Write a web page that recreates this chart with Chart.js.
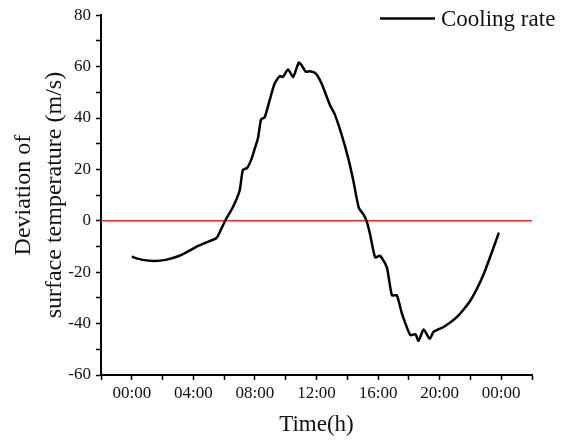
<!DOCTYPE html>
<html>
<head>
<meta charset="utf-8">
<script src="https://cdn.jsdelivr.net/npm/chart.js@4.4.1/dist/chart.umd.min.js"></script>
<style>
  html, body { margin: 0; padding: 0; background: #fff; }
  #wrap { width: 564px; height: 442px; position: relative; }
</style>
</head>
<body>
<div id="wrap"><canvas id="chart"></canvas></div>
<script>
// Valores (hora do dia x desvio)
const hours = [0, 0.7, 1.45, 2.2, 3.1, 3.75, 4.2, 4.85, 5.5, 5.8, 6.1, 6.55, 7.0, 7.22, 7.5, 7.76, 8.0, 8.2, 8.4, 8.63,
  8.96, 9.28, 9.61, 9.82, 10.15, 10.48, 10.85, 11.02, 11.3, 11.57, 11.96, 12.33, 12.87, 13.2, 13.63, 14.06, 14.4, 14.75,
  15.05, 15.25, 15.48, 15.81, 16.13, 16.57, 16.9, 17.22, 17.55, 18.1, 18.42, 18.63, 18.96, 19.35, 19.61, 20.26, 21.13,
  22.0, 22.87, 23.85];
const coolingRate = [-14, -15.2, -15.6, -15.2, -13.6, -11.6, -10.1, -8.4, -6.7, -3.3, 0.4, 5.1, 11.6, 19.8, 20.6, 23.8,
  28.3, 32.2, 39.5, 40.2, 47.0, 53.4, 56.3, 56.0, 58.9, 56.0, 61.6, 60.6, 58.0, 58.2, 57.3, 53.4, 45.1, 41.2, 33.5, 24.4,
  15.4, 5.0, 2.5, 0, -5.2, -14.2, -13.6, -18.1, -29, -29, -36.1, -44.5, -44.1, -46.7, -42.3, -45.9, -43.2, -41.3, -37.4,
  -31, -20.6, -4.6];
const zeroLineX = [-2, 26];
const zeroLineY = [0, 0];
const xTickHours = [0, 4, 8, 12, 16, 20, 24];
const yTickLabels = [-60, -40, -20, 0, 20, 40, 60, 80];

const serif = '"Liberation Serif", "Times New Roman", serif';
const inkColor = '#111';

function formatHour(h) {
  const hh = ((h % 24) + 24) % 24;
  return String(hh).padStart(2, '0') + ':00';
}

// Legenda desenhada à mão para ficar no canto superior direito, fora da área do gráfico
const topRightLegend = {
  id: 'topRightLegend',
  afterDraw(chart) {
    const { ctx } = chart;
    const ds = chart.data.datasets[0];
    ctx.save();
    ctx.strokeStyle = ds.borderColor;
    ctx.lineWidth = ds.borderWidth;
    ctx.beginPath();
    ctx.moveTo(380, 18.5);
    ctx.lineTo(435, 18.5);
    ctx.stroke();
    ctx.fillStyle = inkColor;
    ctx.font = '23px ' + serif;
    ctx.textBaseline = 'middle';
    ctx.textAlign = 'left';
    ctx.fillText(ds.label, 441, 19.5);
    ctx.restore();
  }
};

new Chart(document.getElementById('chart'), {
  type: 'line',
  data: {
    datasets: [
      {
        label: 'Cooling rate',
        data: hours.map((h, i) => ({ x: h, y: coolingRate[i] })),
        borderColor: '#000',
        borderWidth: 2.5,
        pointRadius: 0,
        tension: 0.2,
        fill: false
      },
      {
        label: 'zero',
        data: zeroLineX.map((h, i) => ({ x: h, y: zeroLineY[i] })),
        borderColor: '#ee2a24',
        borderWidth: 1.5,
        pointRadius: 0,
        fill: false
      }
    ]
  },
  options: {
    responsive: true,
    maintainAspectRatio: false,
    animation: false,
    layout: { padding: { top: 13, right: 32, left: 0, bottom: 0 } },
    plugins: { legend: { display: false }, tooltip: { enabled: false } },
    scales: {
      x: {
        type: 'linear',
        min: -2,
        max: 26,
        afterFit: scale => { scale.height = 67; },
        border: { display: true, color: '#000', width: 2 },
        grid: { display: true, drawOnChartArea: false, drawTicks: true, tickLength: 5, tickColor: '#000', tickWidth: 1.5 },
        ticks: {
          stepSize: 2,
          autoSkip: false,
          maxRotation: 0,
          padding: 3,
          color: inkColor,
          font: { family: serif, size: 17 },
          callback: v => (xTickHours.includes(v) ? formatHour(v) : '')
        },
        title: {
          display: true,
          text: 'Time(h)',
          color: inkColor,
          font: { family: serif, size: 23 },
          padding: { top: 0, bottom: 3 }
        }
      },
      y: {
        min: -60,
        max: 80,
        afterFit: scale => { scale.width = 101; },
        border: { display: true, color: '#000', width: 2 },
        grid: { display: true, drawOnChartArea: false, drawTicks: true, tickLength: 5, tickColor: '#000', tickWidth: 1.5 },
        ticks: {
          stepSize: 10,
          autoSkip: false,
          padding: 5,
          color: inkColor,
          font: { family: serif, size: 17 },
          callback: v => (yTickLabels.includes(v) ? String(v) : '')
        },
        title: {
          display: true,
          text: ['Deviation of', 'surface temperature (m/s)'],
          color: inkColor,
          font: { family: serif, size: 24, lineHeight: 1.3 },
          padding: { top: 8, bottom: 0 }
        }
      }
    }
  },
  plugins: [topRightLegend]
});
</script>
</body>
</html>
